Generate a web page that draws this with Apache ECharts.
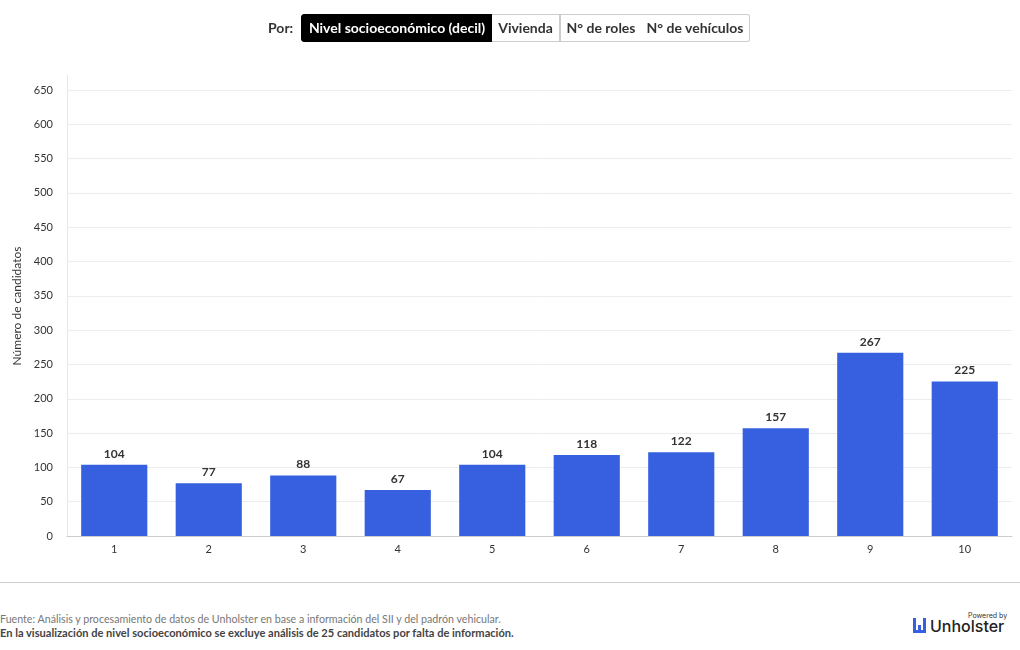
<!DOCTYPE html>
<html>
<head>
<meta charset="utf-8">
<script src="https://cdn.jsdelivr.net/npm/echarts@6/dist/echarts.min.js"></script>
<style>
html,body{margin:0;padding:0;background:#fff;width:1020px;height:650px;overflow:hidden;font-family:Lato,"Open Sans",sans-serif;}
#top{position:absolute;left:0;top:14px;width:1020px;height:28px;}
#por{position:absolute;left:268px;top:0;line-height:28px;font-size:14px;font-weight:bold;color:#333;}
.btn{position:absolute;top:0;height:26px;line-height:26px;border:1px solid #ccc;font-size:14px;font-weight:bold;color:#333;text-align:center;box-sizing:content-box;background:#fff;}
.btn.active{background:#000;color:#fff;border-color:#000;}
#chart{position:absolute;left:0;top:0;width:1020px;height:580px;}
#sep{position:absolute;left:0;top:582px;width:1020px;height:1px;background:#ccc;}
#f1{position:absolute;left:0;top:611px;font-size:12px;color:#777;white-space:nowrap;transform:scaleX(0.888);transform-origin:0 0;}
#f2{position:absolute;left:0;top:625px;font-size:12px;color:#444;font-weight:bold;white-space:nowrap;transform:scaleX(0.924);transform-origin:0 0;}
</style>
</head>
<body>
<div id="chart"></div>
<div id="top">
  <div id="por">Por:</div>
  <div class="btn active" style="left:301px;width:190px;border-radius:3px 0 0 3px;">Nivel socioeconómico (decil)</div>
  <div class="btn" style="left:492px;width:67px;border-left:none;">Vivienda</div>
  <div class="btn" style="left:560px;width:80px;border-left:1px solid #ccc;">N° de roles</div>
  <div class="btn" style="left:641px;width:108px;border-left:none;border-radius:0 3px 3px 0;">N° de vehículos</div>
</div>
<div id="sep"></div>
<div id="f1">Fuente: Análisis y procesamiento de datos de Unholster en base a información del SII y del padrón vehicular.</div>
<div id="f2">En la visualización de nivel socioeconómico se excluye análisis de 25 candidatos por falta de información.</div>
<div style="position:absolute;left:968px;top:612px;font-size:7px;line-height:8px;color:#333;font-family:Inter,sans-serif;">Powered by</div>
<div style="position:absolute;left:913px;top:618px;width:3px;height:15px;background:#3660e0;"></div>
<div style="position:absolute;left:918px;top:625px;width:3px;height:8px;background:#3660e0;"></div>
<div style="position:absolute;left:923px;top:618px;width:3px;height:15px;background:#3660e0;"></div>
<div style="position:absolute;left:913px;top:630px;width:13px;height:3px;background:#3660e0;"></div>
<div style="position:absolute;left:930px;top:616px;font-size:16px;line-height:20px;color:#222;font-family:Inter,sans-serif;font-weight:500;">Unholster</div>
<script>
var categories = ['1','2','3','4','5','6','7','8','9','10'];
var values = [104, 77, 88, 67, 104, 118, 122, 157, 267, 225];
var yAxisName = 'Número de candidatos';

var chart = echarts.init(document.getElementById('chart'), null, {renderer:'canvas'});
chart.setOption({
  animation:false,
  grid:{left:67, right:8, top:90, bottom:44},
  xAxis:{
    type:'category', data:categories,
    axisLine:{lineStyle:{color:'#ccc'}},
    axisTick:{alignWithLabel:true, length:5, lineStyle:{color:'#ccc'}},
    axisLabel:{color:'#333', fontSize:11, margin:8, fontFamily:'Lato'}
  },
  yAxis:{
    type:'value', min:0, max:650, interval:50,
    axisLine:{show:false},
    axisTick:{show:false},
    splitLine:{lineStyle:{color:'#ececec'}},
    axisLabel:{color:'#333', fontSize:11, margin:14, fontFamily:'Lato'}
  },
  series:[{
    type:'bar', data:values, barWidth:'70%',
    itemStyle:{color:'#3660e0'},
    label:{show:true, position:'top', color:'#333', fontWeight:'bold', fontSize:12, distance:5, fontFamily:'Lato'}
  }],
  graphic:[
    {type:'line', shape:{x1:67.5,y1:75,x2:67.5,y2:536}, style:{stroke:'#e6e6e6', lineWidth:1}, z:-1},
    {type:'text', x:17, y:306, rotation:Math.PI/2, style:{text:yAxisName, fill:'#333', font:'12px Lato', align:'center', verticalAlign:'middle'}}
  ]
});
</script>
</body>
</html>
